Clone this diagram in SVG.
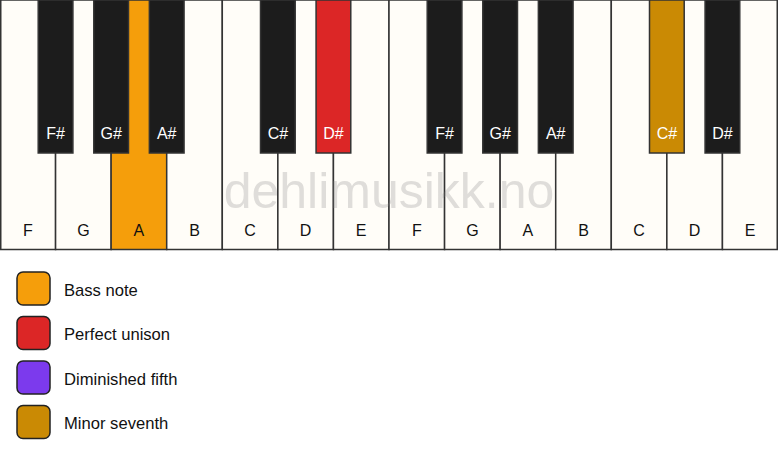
<svg xmlns="http://www.w3.org/2000/svg" width="778" height="461" viewBox="0 0 778 461">
<style>
.w{fill:#fffdf8;stroke:#333;stroke-width:1.5}
.b{fill:#1c1c1c;stroke:#333;stroke-width:1.5}
.t{font-family:"Liberation Sans",Arial,sans-serif;font-size:16px;text-anchor:middle}
.wt{fill:#111}
.bt{fill:#fff}
.lg{stroke:#222;stroke-width:1.5}
.lt{font-family:"Liberation Sans",Arial,sans-serif;font-size:16.6px;fill:#111}
</style>
<rect width="778" height="461" fill="#ffffff"/>
<g id="white-keys">
<g id="key-F1"><rect class="w" x="0.75" y="0" width="54.82" height="249.5"/><text class="t wt" x="27.8" y="236">F</text></g>
<g id="key-G1"><rect class="w" x="55.57" y="0" width="55.57" height="249.5"/><text class="t wt" x="83.4" y="236">G</text></g>
<g id="key-A1"><rect class="w" x="111.14" y="0" width="55.57" height="249.5" style="fill:#f59e0b"/><text class="t wt" x="138.9" y="236">A</text></g>
<g id="key-B1"><rect class="w" x="166.71" y="0" width="55.57" height="249.5"/><text class="t wt" x="194.5" y="236">B</text></g>
<g id="key-C1"><rect class="w" x="222.29" y="0" width="55.57" height="249.5"/><text class="t wt" x="250.1" y="236">C</text></g>
<g id="key-D1"><rect class="w" x="277.86" y="0" width="55.57" height="249.5"/><text class="t wt" x="305.6" y="236">D</text></g>
<g id="key-E1"><rect class="w" x="333.43" y="0" width="55.57" height="249.5"/><text class="t wt" x="361.2" y="236">E</text></g>
<g id="key-F2"><rect class="w" x="389" y="0" width="55.57" height="249.5"/><text class="t wt" x="416.8" y="236">F</text></g>
<g id="key-G2"><rect class="w" x="444.57" y="0" width="55.57" height="249.5"/><text class="t wt" x="472.4" y="236">G</text></g>
<g id="key-A2"><rect class="w" x="500.14" y="0" width="55.57" height="249.5"/><text class="t wt" x="527.9" y="236">A</text></g>
<g id="key-B2"><rect class="w" x="555.71" y="0" width="55.57" height="249.5"/><text class="t wt" x="583.5" y="236">B</text></g>
<g id="key-C2"><rect class="w" x="611.29" y="0" width="55.57" height="249.5"/><text class="t wt" x="639.1" y="236">C</text></g>
<g id="key-D2"><rect class="w" x="666.86" y="0" width="55.57" height="249.5"/><text class="t wt" x="694.6" y="236">D</text></g>
<g id="key-E2"><rect class="w" x="722.43" y="0" width="54.82" height="249.5"/><text class="t wt" x="750.2" y="236">E</text></g>
</g>
<g id="black-keys">
<g id="key-Fs1"><rect class="b" x="38.21" y="0" width="34.7" height="153"/><text class="t bt" x="55.57" y="139">F#</text></g>
<g id="key-Gs1"><rect class="b" x="93.79" y="0" width="34.7" height="153"/><text class="t bt" x="111.14" y="139">G#</text></g>
<g id="key-As1"><rect class="b" x="149.36" y="0" width="34.7" height="153"/><text class="t bt" x="166.71" y="139">A#</text></g>
<g id="key-Cs1"><rect class="b" x="260.5" y="0" width="34.7" height="153"/><text class="t bt" x="277.86" y="139">C#</text></g>
<g id="key-Ds1"><rect class="b" x="316.07" y="0" width="34.7" height="153" style="fill:#dc2626"/><text class="t bt" x="333.43" y="139">D#</text></g>
<g id="key-Fs2"><rect class="b" x="427.21" y="0" width="34.7" height="153"/><text class="t bt" x="444.57" y="139">F#</text></g>
<g id="key-Gs2"><rect class="b" x="482.79" y="0" width="34.7" height="153"/><text class="t bt" x="500.14" y="139">G#</text></g>
<g id="key-As2"><rect class="b" x="538.36" y="0" width="34.7" height="153"/><text class="t bt" x="555.71" y="139">A#</text></g>
<g id="key-Cs2"><rect class="b" x="649.5" y="0" width="34.7" height="153" style="fill:#ca8a04"/><text class="t bt" x="666.86" y="139">C#</text></g>
<g id="key-Ds2"><rect class="b" x="705.07" y="0" width="34.7" height="153"/><text class="t bt" x="722.43" y="139">D#</text></g>
</g>
<text x="389" y="208" font-family="Liberation Sans,Arial,sans-serif" font-size="50" text-anchor="middle" fill="#808080" fill-opacity="0.25">dehlimusikk.no</text>
<g id="legend">
<g id="legend-bass"><rect class="lg" x="17" y="272" width="33" height="33" rx="6" fill="#f59e0b"/><text class="lt" x="64" y="295.5">Bass note</text></g>
<g id="legend-unison"><rect class="lg" x="17" y="316.5" width="33" height="33" rx="6" fill="#dc2626"/><text class="lt" x="64" y="340">Perfect unison</text></g>
<g id="legend-dim5"><rect class="lg" x="17" y="361" width="33" height="33" rx="6" fill="#7c3aed"/><text class="lt" x="64" y="384.5">Diminished fifth</text></g>
<g id="legend-min7"><rect class="lg" x="17" y="405.5" width="33" height="33" rx="6" fill="#ca8a04"/><text class="lt" x="64" y="429">Minor seventh</text></g>
</g>
<g id="connectors"/>
</svg>
